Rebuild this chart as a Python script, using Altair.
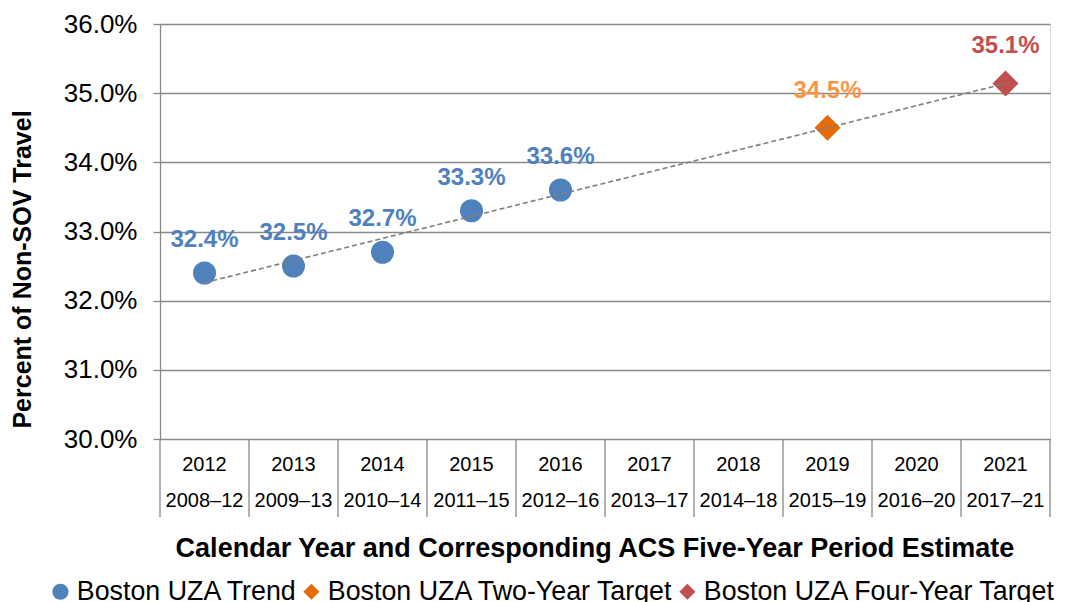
import altair as alt
import pandas as pd

# ---- data ----
years = [2012, 2013, 2014, 2015, 2016, 2017, 2018, 2019, 2020, 2021]
periods = ["2008–12", "2009–13", "2010–14", "2011–15", "2012–16",
           "2013–17", "2014–18", "2015–19", "2016–20", "2017–21"]

series_names = ["Boston UZA Trend", "Boston UZA Two-Year Target", "Boston UZA Four-Year Target"]
trend_years = [2012, 2013, 2014, 2015, 2016]
trend_values = [32.4, 32.5, 32.7, 33.3, 33.6]
two_year_years = [2019]
two_year_values = [34.5]
four_year_years = [2021]
four_year_values = [35.14]

trendline_years = [2012, 2021]
trendline_values = [32.26, 35.14]

y_ticks = [30, 31, 32, 33, 34, 35, 36]

# ---- styles ----
FONT = "Liberation Sans"
GRID = "#898989"
marker_colors = ["#4F81BD", "#E46C0A", "#C0504D"]
label_colors = ["#4F81BD", "#F79646", "#C0504D"]
marker_shapes = ["circle", "diamond", "diamond"]

rows = []
for name, ys, vs in [(series_names[0], trend_years, trend_values),
                     (series_names[1], two_year_years, two_year_values),
                     (series_names[2], four_year_years, four_year_values)]:
    for y, v in zip(ys, vs):
        rows.append({"year": y, "value": v, "series": name})
points_df = pd.DataFrame(rows)

cats_df = pd.DataFrame({"year": years, "period": periods})
bounds_df = pd.DataFrame({"b": [y - 0.5 for y in years] + [years[-1] + 0.5]})
trend_df = pd.DataFrame({"year": trendline_years, "value": trendline_values})

xscale = alt.Scale(domain=[years[0] - 0.5, years[-1] + 0.5], nice=False, zero=False)
yscale = alt.Scale(domain=[y_ticks[0], y_ticks[-1]], nice=False, zero=False)

yaxis = alt.Axis(
    values=y_ticks, grid=True, gridColor=GRID, gridWidth=1.3,
    domainColor=GRID, domainWidth=1.3, tickColor=GRID, tickWidth=1.3, tickSize=7,
    labelExpr="format(datum.value, '.1f') + '%'", labelFontSize=26, labelFont=FONT,
    labelColor="#000000", labelPadding=16,
    title="Percent of Non-SOV Travel", titleFontSize=25, titleFont=FONT,
    titleFontWeight="bold", titleColor="#000000", titleAngle=-90,
    titleX=-138, titleY=245, titleAlign="center", titleBaseline="middle",
)

legend = alt.Legend(
    title=None, orient="none", legendX=-113, legendY=554, direction="horizontal",
    labelFontSize=26.8, labelFont=FONT, labelColor="#000000", symbolSize=260,
    labelLimit=600, columnPadding=0, labelOffset=3, symbolStrokeWidth=0,
)

color_enc = alt.Color("series:N", scale=alt.Scale(domain=series_names, range=marker_colors),
                      sort=series_names, legend=legend)
shape_enc = alt.Shape("series:N", scale=alt.Scale(domain=series_names, range=marker_shapes),
                      sort=series_names, legend=legend)

circles = alt.Chart(points_df).transform_filter(alt.datum.series == series_names[0]).mark_point(
    filled=True, opacity=1, strokeWidth=0, size=529
).encode(
    x=alt.X("year:Q", scale=xscale, axis=None),
    y=alt.Y("value:Q", scale=yscale, axis=yaxis),
    color=color_enc, shape=shape_enc,
)

diamonds = alt.Chart(points_df).transform_filter(alt.datum.series != series_names[0]).mark_point(
    filled=True, opacity=1, strokeWidth=0, size=676
).encode(
    x=alt.X("year:Q", scale=xscale, axis=None),
    y=alt.Y("value:Q", scale=yscale),
    color=color_enc, shape=shape_enc,
)

trendline = alt.Chart(trend_df).mark_line(
    strokeDash=[5, 3], color="#7F7F7F", strokeWidth=1.6
).encode(
    x=alt.X("year:Q", scale=xscale, axis=None),
    y=alt.Y("value:Q", scale=yscale),
)

label_layers = []
for name, col, dy in zip(series_names, label_colors, [-26, -30, -30]):
    label_layers.append(
        alt.Chart(points_df).transform_filter(alt.datum.series == name)
        .transform_calculate(lab="format(datum.value, '.1f') + '%'")
        .mark_text(font=FONT, fontSize=24, fontWeight="bold", color=col, dy=dy,
                   baseline="alphabetic", align="center")
        .encode(x=alt.X("year:Q", scale=xscale, axis=None),
                y=alt.Y("value:Q", scale=yscale), text="lab:N")
    )

sep_rules = alt.Chart(bounds_df).mark_rule(color=GRID, strokeWidth=1.3).encode(
    x=alt.X("b:Q", scale=xscale, axis=None),
    y=alt.value(415), y2=alt.value(493),
)

year_text = alt.Chart(cats_df).mark_text(
    font=FONT, fontSize=20, color="#000000", baseline="alphabetic", align="center"
).encode(x=alt.X("year:Q", scale=xscale, axis=None), y=alt.value(446.5), text="year:N")

period_text = alt.Chart(cats_df).mark_text(
    font=FONT, fontSize=20, color="#000000", baseline="alphabetic", align="center"
).encode(x=alt.X("year:Q", scale=xscale, axis=None), y=alt.value(483), text="period:N")

xtitle = alt.Chart(pd.DataFrame({"t": ["Calendar Year and Corresponding ACS Five-Year Period Estimate"]})).mark_text(
    font=FONT, fontSize=27, fontWeight="bold", color="#000000", baseline="middle", align="center"
).encode(x=alt.value(435), y=alt.value(525), text="t:N")

chart = alt.layer(
    sep_rules, circles, diamonds, trendline, *label_layers, year_text, period_text, xtitle
).properties(
    width=890, height=415,
    autosize=alt.AutoSizeParams(type="none"),
    padding={"left": 152, "top": 16, "right": 8, "bottom": 168},
).configure_view(stroke=None).configure(font=FONT)

chart.save("out.html", embed_options={"renderer": "svg", "actions": False})
